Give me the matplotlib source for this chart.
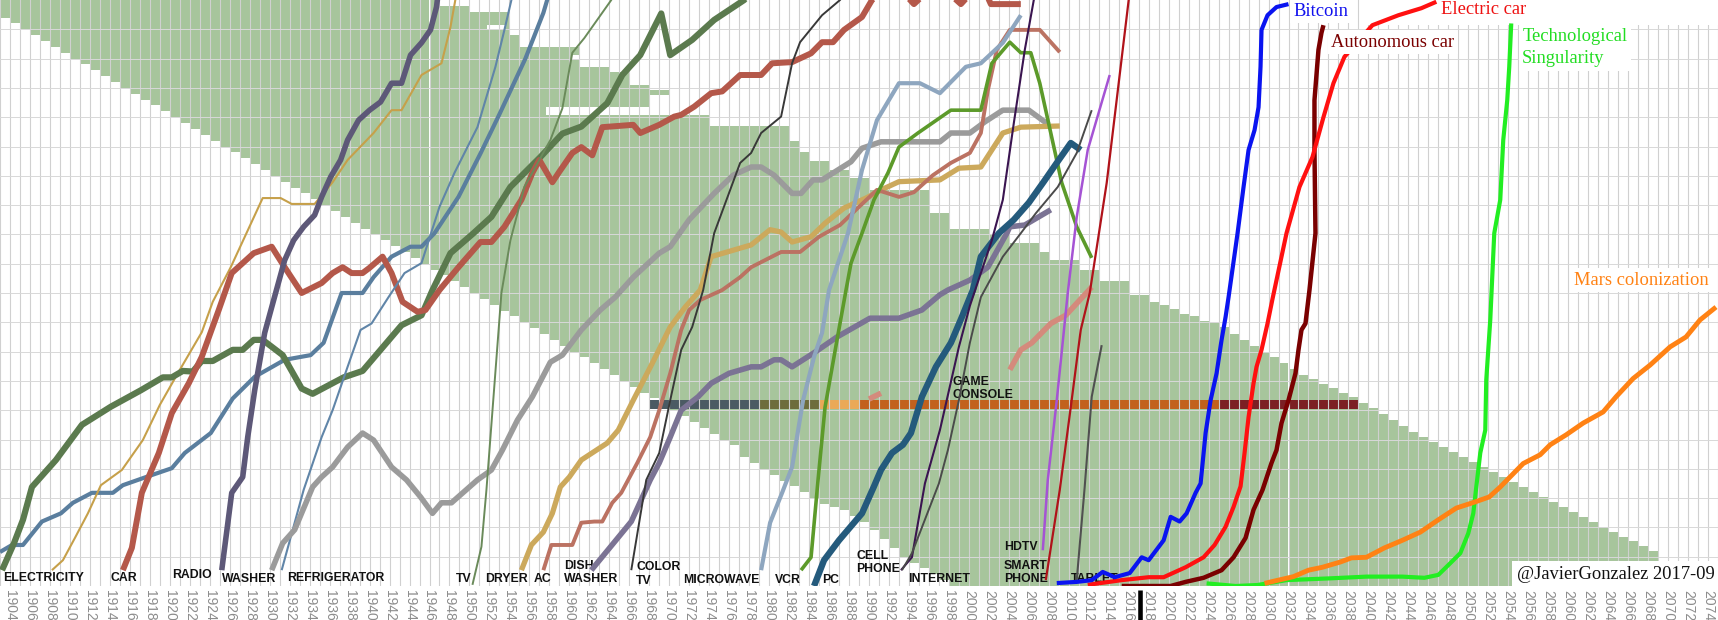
import matplotlib
matplotlib.use("Agg")
import matplotlib.pyplot as plt

plt.rcParams['font.family'] = ['Liberation Sans', 'DejaVu Sans']

# ---------------- axis ----------------
TICK_YEARS = list(range(1904, 2075, 2))
GRID_YEARS = list(range(1903, 2076))
HGRID_VALUES = [5, 10, 15, 20, 25, 30, 35, 40, 45, 50, 55, 60, 65, 70, 75, 80, 85, 90, 95]

# ---------------- green band (one column per year) ----------------
BAND_YEARS = list(range(1903, 2069))
BAND_LOW = ([97, 96, 95, 94, 93, 92, 91, 90, 89, 88,
             87, 86, 85, 84, 83, 82, 81, 80, 79, 78,
             77, 76, 75, 74, 73, 72, 71, 70, 69, 68,
             67, 66, 65, 64, 63, 62, 61, 60, 59, 58,
             57, 56, 55, 54, 53, 52, 51, 50, 49, 48,
             47, 46, 45, 44, 43, 42, 41, 40, 39, 38,
             37, 36, 35, 34, 33, 32, 31, 30, 29, 28,
             27, 26, 25, 24, 22, 21, 20, 19, 18, 17,
             16, 15, 14, 13.5, 13, 12, 11, 9.5, 8, 6.5,
             5, 4, 3, 2, 1, 0, 0, 0, 0, 0] + [0] * 66)
BAND_HIGH = ([100] * 44 +
             [99, 99, 99, 98, 98, 98, 98, 94, 92, 92,
              92, 92, 92, 92, 88.6, 88.6, 88.6, 87.7, 87.7, 85.5,
              85.5, 84.6, 84.6, 80.4, 80.4, 80.4, 80.4, 78.5, 78.5, 78.5,
              78.5, 78.5, 78.5, 78.5, 78.5, 76, 74, 72.5, 72.5, 71,
              71, 69.6, 69.6, 67.5, 67.5, 67.5, 67.5, 67.5, 67.5, 63.6,
              63.6, 61, 61, 61, 61, 60, 60, 58.5, 58.5, 58.5,
              57, 55.6, 55.6, 55.6, 54, 54, 52, 52, 52, 49.7,
              49.7, 48.5, 48, 47.3, 46.5, 46, 45.3, 44.8, 44.2, 43,
              42, 41, 40, 39, 38, 37, 36, 35.3, 34.5, 33.8,
              33, 32.3, 31.3, 30.3, 29.3, 28.3, 27.3, 26.3, 25.4, 24.6,
              23.7, 22.9, 22, 21.2, 20.3, 19.5, 18.6, 17.8, 16.9, 16.1,
              15.2, 14.4, 13.5, 12.7, 11.8, 11, 10.1, 9.3, 8.4, 7.6,
              6.8, 6.0])
GAP_START = [1951.8, 1960.3, 1957.7, 1968.0]
GAP_END = [1953.6, 1961.4, 1968.0, 1970.0]
GAP_LOW = [94.9, 89.8, 80.4, 80.4]
GAP_HIGH = [95.8, 90.6, 81.8, 83.8]

# ---------------- game console bar ----------------
GC_START = [1968, 1979, 1985, 1989, 2025]
GC_END = [1979, 1985, 1989, 2025, 2039]
GC_COLORS = ['#4b5a63', '#6d6c3c', '#eaa957', '#c2611d', '#7c1f24']
GC_LOW, GC_HIGH = 30.2, 31.7

# ---------------- series ----------------
ELEC_YR = [1903.2, 1904.4, 1905.3, 1906.2, 1908.6, 1911.2, 1914.1, 1917.1, 1919.3, 1920.2, 1921.3, 1922.3,
           1923.2, 1924.3, 1926.3, 1927.3, 1928.4, 1929.3, 1931.3, 1933.2, 1934.3, 1937.4, 1939.3, 1941.1,
           1943.2, 1945.2, 1946.3, 1948.1, 1950.4, 1952.2, 1954.1, 1957.1, 1959.3, 1961.2, 1963.8, 1965.3,
           1967.1, 1969.2, 1970.1, 1972.3, 1974.5, 1977.5, 1979]
ELEC_VAL = [2.7, 7.3, 11.3, 16.9, 21.5, 27.5, 30.6, 33.4, 35.6, 35.6, 36.7, 36.6,
            38.4, 38.4, 40.3, 40.3, 42, 42, 39.4, 33.7, 32.8, 35.6, 36.7, 40.3,
            44.5, 46.2, 50.5, 56.8, 60.2, 63, 68.1, 73.2, 77.2, 78.4, 82.4, 87.2,
            90.6, 97.7, 90.6, 93.2, 96.6, 100, 103]

TEL_YR = [1903, 1904.2, 1905.3, 1907.2, 1909.1, 1910.3, 1912.2, 1914.3, 1915.3, 1917.8, 1920.2, 1921.5,
          1924.1, 1926.3, 1928.5, 1931.5, 1934.1, 1935.4, 1937.2, 1939.3, 1940.4, 1942.2, 1944.1, 1945.2,
          1946.5, 1948.9, 1951.1, 1953, 1955.6, 1957.4, 1958.3]
TEL_VAL = [5.8, 7, 7, 11, 12.4, 14.2, 15.9, 15.9, 17.2, 18.7, 20.1, 22.7,
           26.1, 32, 35.7, 38.6, 39.4, 41.5, 50, 50, 52.7, 56.2, 57.9, 57.9,
           60.2, 66.4, 73.8, 80.5, 90, 97.8, 103]

GOLD_YR = [1908.2, 1909.3, 1910.5, 1911.8, 1913.1, 1915.2, 1917.3, 1919, 1920.8, 1923.2, 1924.3, 1926.1,
           1929.3, 1931.1, 1932.2, 1934.5, 1936.3, 1937.8, 1940.4, 1942.2, 1943.2, 1945.2, 1947.2, 1948.1,
           1948.9]
GOLD_VAL = [2.7, 4.4, 8.2, 12.4, 17.2, 19.8, 24.9, 30.9, 36.3, 43.3, 48.5, 54.4,
            66.2, 66.2, 65.2, 65.2, 68.9, 72.7, 77.3, 81.2, 81.2, 87.2, 89.2, 95.4,
            103]

CAR_YR = [1915.3, 1916.2, 1917.2, 1918.9, 1920.2, 1921.9, 1923.2, 1924.9, 1926.2, 1928.4, 1930.2, 1931.5,
          1933.2, 1935.2, 1936.3, 1937.3, 1938.2, 1939.3, 1940, 1941.3, 1942.2, 1943.3, 1944.8, 1945.6,
          1947, 1948.9, 1951.1, 1952.2, 1953.5, 1955.2, 1956.3, 1957, 1958.3, 1959, 1960.3, 1961.2,
          1962.3, 1963.3, 1966.4, 1967.1, 1969, 1970.5, 1971.2, 1972.5, 1974.2, 1975.3, 1977.1, 1979.2,
          1980.3, 1982.3, 1984.2, 1985.3, 1986.4, 1987.5, 1989.3, 1990.3, 1992.5, 1994.5, 1996.8, 1999.2,
          2001.2, 2002.2, 2005.2]
CAR_VAL = [2.7, 6.5, 15.9, 22.7, 29.5, 34.6, 39.1, 47.1, 53.4, 56.8, 57.9, 54.4,
           50, 51.7, 53.4, 54.4, 53.4, 53.4, 54.3, 56.2, 53.4, 48.5, 46.8, 47.1,
           50.5, 54.4, 58.7, 58.7, 61.3, 65.9, 70.5, 72.7, 68.9, 70.7, 73.9, 74.9,
           73.5, 78.3, 78.7, 77.3, 78.7, 80.1, 80.4, 81.8, 84.1, 84.4, 87.2, 87.2,
           89.2, 89.4, 90.9, 92.8, 92.8, 94.9, 97.1, 100, 103, 99.3, 103, 99.3,
           103, 99.3, 99.3]

RADIO_YR = [1925.2, 1926.2, 1927.3, 1927.8, 1928.5, 1929.5, 1930.4, 1931.5, 1932.4, 1933.4, 1934.5, 1935.2,
            1936.1, 1937.1, 1937.8, 1938.9, 1940, 1941.1, 1942.2, 1943.2, 1944.1, 1945.2, 1946.1, 1946.7,
            1947]
RADIO_VAL = [2.7, 15.9, 18.6, 25.4, 33.4, 43.2, 48.8, 55.6, 59, 61.3, 63.3, 66.4,
             69.8, 72.7, 76.1, 79.5, 81.2, 82.6, 85.8, 85.8, 90.6, 92.7, 94.9, 98.8,
             103]

FRIDGE_YR = [1930.2, 1931.3, 1932.5, 1934.3, 1935.2, 1936.3, 1937.8, 1939.3, 1940.4, 1942.2, 1943.7, 1945.1,
             1946.3, 1947.2, 1948.2, 1950.8, 1952.2, 1953.3, 1954.8, 1956.3, 1958.1, 1959.3, 1961.2, 1963.1,
             1964.6, 1966.4, 1969, 1970.1, 1972, 1974.5, 1976.4, 1978.2, 1979.2, 1980.5, 1982.3, 1983.2,
             1984.4, 1985.3, 1988.2, 1989.3, 1991.2, 1997.1, 1998.2, 2000.1, 2001.6, 2003.4, 2006, 2008]
FRIDGE_VAL = [2.7, 7.3, 9.6, 16.9, 18.6, 20.3, 23.7, 26.1, 24.9, 20.3, 18.1, 15.2,
              12.4, 14.2, 14.2, 18.1, 19.8, 23.2, 28.3, 32.3, 38.2, 39.4, 43.7, 47.1,
              49.3, 52.7, 56.8, 57.9, 62.5, 67, 70.1, 71.5, 71.5, 70.1, 67, 67,
              69.3, 69.3, 72.4, 74.7, 75.8, 75.8, 77.3, 77.3, 79.2, 81.2, 81.2, 78.7]

BLUE_YR = [1931.2, 1933.4, 1935.2, 1936.3, 1937.8, 1939.1, 1940.2, 1941.9, 1943.5, 1945.2, 1947, 1948.5,
           1950.8, 1952.6, 1953.5, 1954.2, 1954.5]
BLUE_VAL = [2.7, 16.4, 25.4, 30, 37.4, 43.7, 44.8, 49.3, 53.4, 55.1, 64.7, 70.5,
            78.3, 88.6, 94.9, 100, 103]

TV_YR = [1950.3, 1951.2, 1951.7, 1953.2, 1954.1, 1955.5, 1958.1, 1959.3, 1960.3, 1961.5, 1964.2, 1964.5]
TV_VAL = [0.2, 6.7, 16.4, 50, 59, 68.1, 76.1, 81.5, 91, 93.5, 100, 102]

DRYER_YR = [1955.2, 1956.2, 1957.4, 1958.3, 1959.1, 1960, 1961.2, 1963.8, 1964.9, 1966.4, 1968.3, 1970.1,
            1971.6, 1973.1, 1974.2, 1976.4, 1978.2, 1980.1, 1981.2, 1982.3, 1984.2, 1985.6, 1987.5, 1989.7,
            1991.6, 1993, 1997.1, 1999, 2001.2, 2003.4, 2005.2, 2009.1]
DRYER_VAL = [2.7, 7, 9.2, 12.4, 16.9, 18.6, 21.5, 24.4, 26.6, 31.7, 38, 44.2,
             47.6, 50.5, 56.2, 57.3, 58.2, 60.8, 60.4, 58.7, 59.6, 61.9, 64.5, 66.2,
             67.9, 69, 69.3, 71.3, 71.5, 77.3, 78.3, 78.5]

AC_YR = [1957.4, 1958.2, 1960.3, 1961.2, 1962.5, 1963.3, 1964.3, 1965.2, 1966.8, 1968.1, 1969, 1970.1,
         1971.2, 1972, 1973.1, 1975.3, 1977.1, 1978.2, 1981.2, 1983.1, 1985, 1987.1, 1989, 1990.8,
         1993, 1994.5, 1996.4, 1998.2, 2000.1, 2001.2, 2001.9, 2002.8, 2004.1, 2007.1, 2009.1]
AC_VAL = [2.7, 7, 7, 10.8, 11, 11, 14.2, 15.9, 21, 25.4, 30, 36.3,
          43.7, 47.1, 48.8, 50.5, 52.7, 54.4, 57, 57, 59.6, 61.6, 64.7, 67.6,
          66.4, 67.2, 70.1, 72.2, 73.9, 77.3, 84.6, 91.5, 94.9, 94.9, 91.1]

DISH_YR = [1962.2, 1966.2, 1968.1, 1969, 1970.1, 1971.2, 1972.9, 1974.2, 1976, 1978.2, 1979.2, 1980.5,
           1981.2, 1982.3, 1984.5, 1986.8, 1990.1, 1993, 1995.3, 1997.1, 1997.9, 2000.1, 2001.9, 2003.8,
           2004.1, 2005.6, 2008.2]
DISH_VAL = [2.7, 11, 18.1, 21, 25.4, 30, 32.3, 34.6, 36.3, 37.4, 37.4, 38.6,
            38.6, 37.4, 39.8, 42.5, 45.7, 45.7, 47.1, 49.7, 50.5, 52.2, 54.4, 60.2,
            61.3, 61.6, 64.2]

CTV_YR = [1966.2, 1967.7, 1969, 1970.1, 1971.2, 1972.3, 1973.4, 1974.5, 1977.1, 1978.2, 1979.2, 1981.2,
          1982.3, 1983.1, 1985.3, 1987.1, 1988]
CTV_VAL = [2.7, 18.1, 22.7, 31.7, 40.3, 44.2, 50.5, 60.2, 72.2, 73.9, 77.3, 80.1,
           89.2, 92.8, 97.4, 100, 102]

MICRO_YR = [1979.2, 1980.1, 1981.3, 1982.3, 1983.4, 1984.5, 1985.3, 1986, 1987.9, 1989.3, 1990.8, 1993,
            1995.1, 1997.1, 1999.7, 2001.2, 2003.4, 2005.2]
MICRO_VAL = [2.7, 10.8, 15.9, 20.3, 31.7, 39.1, 43.2, 50.5, 60.2, 71, 79.5, 85.8,
             85.8, 84.1, 88.6, 89.2, 92.7, 97.4]

VCR_YR = [1983.2, 1984.2, 1984.9, 1985.6, 1986.8, 1987.7, 1988.2, 1989.3, 1990.5, 1991.9, 1993, 1994.9,
          1998.2, 2001.2, 2002.3, 2004.1, 2005.2, 2006.2, 2007.1, 2008.2, 2009.3, 2010.8, 2012.3]
VCR_VAL = [2.7, 4.9, 18.1, 30.5, 42, 50.5, 55.1, 60.2, 65.9, 70.5, 74.9, 77.3,
           81.2, 81.2, 89.2, 92.8, 91, 91, 85.8, 77.3, 68.8, 61.3, 56]

PC_YR = [1984.5, 1985.5, 1987, 1989.3, 1990.5, 1991.2, 1992.3, 1993.4, 1994.2, 1995.3, 1996.7, 1998.2,
         1999.3, 2000.4, 2001.2, 2003, 2004.5, 2006, 2007.5, 2009, 2010.2, 2011.2]
PC_VAL = [0, 4.4, 7.8, 12.4, 17, 19.8, 22.7, 24.1, 26.1, 32.3, 37.4, 41.5,
          45.9, 50.5, 56.2, 60.2, 62.5, 65.4, 69, 72.7, 75.6, 74.4]

CELL_YR = [1993.2, 1994.3, 1995.6, 1997.1, 1999, 2000.1, 2002.3, 2003.4, 2004.5, 2005.6, 2006.5, 2006.7]
CELL_VAL = [2.7, 4.9, 17.5, 26.6, 40.8, 47.8, 59, 65.9, 79, 91.5, 100, 102]

NET_YR = [1993.3, 1994.3, 1997, 1997.9, 1999, 2000.1, 2001.2, 2003.4, 2005.2, 2006.7, 2008.9, 2010.8, 2012.3]
NET_VAL = [2.7, 5.6, 17.5, 23.2, 31.7, 41.5, 49.3, 56.2, 60.2, 63.6, 68.1, 73.9, 81.2]

HDTV_YR = [2007.4, 2007.9, 2008.8, 2009.9, 2010.8, 2011.9, 2014.1]
HDTV_VAL = [6.1, 18.1, 31.7, 50, 63, 74.4, 87.2]

SMART_YR = [2007.7, 2009.1, 2010.2, 2011.2, 2012.1, 2013.8, 2016, 2016.2]
SMART_VAL = [1, 16.4, 30.5, 43.7, 50, 68.8, 100, 102]

TABLET_YR = [2010.8, 2011.6, 2012.3, 2013.3]
TABLET_VAL = [1, 17, 32.3, 41.1]

SALMON_YR = [2004.1, 2005.2, 2006.3, 2008.2, 2009.7, 2012.3]
SALMON_VAL = [36.9, 40.3, 41.5, 44.8, 46.2, 51]
SALMON2_YR = [1990, 1991.2]
SALMON2_VAL = [31.9, 32.9]

BTC_YR = [2008.8, 2010.8, 2012.3, 2013.4, 2014.6, 2016.1, 2017.3, 2018, 2019.5, 2020.2, 2021.1, 2021.8,
          2022.7, 2023.2, 2023.7, 2024.2, 2024.8, 2025.3, 2025.7, 2026, 2026.9, 2027.5, 2028, 2028.6,
          2029.0, 2029.2, 2029.3, 2029.9, 2030.8, 2032]
BTC_VAL = [0.5, 0.7, 1, 2.4, 1.5, 2.2, 4.9, 4.4, 7.8, 11.8, 11, 12.4,
           15.9, 17.5, 26.1, 31.7, 36.3, 42, 45.9, 49.3, 60.2, 68.1, 74.4, 77.8,
           81.7, 88.6, 94.9, 97.4, 98.8, 99.3]

ECAR_YR = [2011.9, 2015.3, 2018, 2019.5, 2021.7, 2023.5, 2024.6, 2025.7, 2026.5, 2027.2, 2027.6, 2028,
           2028.5, 2028.8, 2029.3, 2029.9, 2030.4, 2031.8, 2033.1, 2034.4, 2035.5, 2036.5, 2037.6, 2040.4,
           2043, 2045.3, 2046.8]
ECAR_VAL = [0.2, 1, 1.5, 1.5, 3.2, 4.9, 7, 10.1, 13.5, 17, 22.7, 28.8,
            34.6, 37.4, 40.3, 44.8, 49, 60.2, 68.1, 73.2, 80, 85.8, 90.3, 95.7,
            97.4, 98.6, 99.7]

AUTO_YR = [2015.3, 2020.2, 2021.7, 2023.5, 2025.3, 2026.5, 2027.7, 2028.5, 2029.4, 2030.3, 2030.8, 2031.3,
           2032, 2032.7, 2033, 2033.3, 2033.7, 2034.1, 2034.7, 2034.6, 2034.6, 2035, 2035.3, 2035.5]
AUTO_VAL = [0, 0, 0.7, 1.4, 2.7, 4.9, 8.2, 13, 16.4, 21, 23.2, 27.8,
            31.7, 36.3, 40.3, 43.7, 44.8, 50.5, 60.2, 74.4, 82.9, 91.5, 94.4, 95.7]

SING_YR = [2023.8, 2026.7, 2028.9, 2031.8, 2036.1, 2039.8, 2043.4, 2045.6, 2047.0, 2048.2, 2049.2, 2050.0,
           2050.5, 2050.8, 2051.2, 2051.7, 2051.8, 2052.2, 2052.6, 2053.2, 2053.5, 2053.9, 2054.1, 2054.3]
SING_VAL = [0.45, 0, 0.17, 1.0, 1.3, 1.6, 1.6, 1.4, 1.9, 3.9, 5.6, 9,
            12.4, 16.9, 22.7, 26.6, 35.2, 45.4, 60.2, 65.9, 76.1, 82.9, 88.6, 96]

MARS_YR = [2029.6, 2032.5, 2034.0, 2035.4, 2037.2, 2038.3, 2039.8, 2041.6, 2043.4, 2045.2, 2047.0, 2048.8,
           2050.6, 2052.1, 2053.2, 2055.5, 2057.2, 2058.2, 2059.8, 2061.5, 2063.5, 2064.8, 2066.5, 2068.2,
           2070.2, 2071.8, 2073.2, 2074.8]
MARS_VAL = [0.45, 1.6, 2.7, 3.2, 4.1, 4.8, 4.9, 6.5, 7.8, 9.2, 11.3, 13.3,
            14.3, 15.2, 16.9, 20.9, 22.4, 24.1, 25.8, 27.8, 29.7, 32.3, 35.4, 37.7,
            40.8, 42.5, 45.4, 47.6]

SERIES = [
    (TEL_YR, TEL_VAL, '#5a7e9e', 3.0),
    (GOLD_YR, GOLD_VAL, '#c6a04a', 1.5),
    (ELEC_YR, ELEC_VAL, '#5b7a4e', 4.5),
    (CAR_YR, CAR_VAL, '#b4584a', 4.3),
    (BLUE_YR, BLUE_VAL, '#6085a8', 1.5),
    (RADIO_YR, RADIO_VAL, '#5d5878', 4.0),
    (FRIDGE_YR, FRIDGE_VAL, '#9b9b9b', 4.0),
    (TV_YR, TV_VAL, '#6a8a5a', 1.4),
    (DRYER_YR, DRYER_VAL, '#cca95c', 3.8),
    (AC_YR, AC_VAL, '#bb7262', 2.8),
    (DISH_YR, DISH_VAL, '#7b7394', 4.0),
    (CTV_YR, CTV_VAL, '#383838', 1.4),
    (MICRO_YR, MICRO_VAL, '#8ea6bf', 3.0),
    (VCR_YR, VCR_VAL, '#5c9a2a', 2.6),
    (PC_YR, PC_VAL, '#245a7c', 4.6),
    (CELL_YR, CELL_VAL, '#3a1450', 1.5),
    (NET_YR, NET_VAL, '#4a4a4a', 1.4),
    (SALMON_YR, SALMON_VAL, '#d48a7c', 4.0),
    (SALMON2_YR, SALMON2_VAL, '#d48a7c', 4.0),
    (HDTV_YR, HDTV_VAL, '#a553d4', 1.8),
    (SMART_YR, SMART_VAL, '#b0121a', 1.6),
    (TABLET_YR, TABLET_VAL, '#505050', 1.5),
    (AUTO_YR, AUTO_VAL, '#7a0000', 3.2),
    (ECAR_YR, ECAR_VAL, '#ff1010', 3.0),
    (BTC_YR, BTC_VAL, '#0a14f0', 3.0),
    (SING_YR, SING_VAL, '#22ee22', 3.0),
    (MARS_YR, MARS_VAL, '#ff8214', 3.5),
]

# ---------------- labels ----------------
BOTTOM_LABELS = ["ELECTRICITY", "CAR", "RADIO", "WASHER", "REFRIGERATOR", "TV", "DRYER", "AC",
                 "DISH\nWASHER", "COLOR\nTV", "MICROWAVE", "VCR", "PC", "CELL\nPHONE", "INTERNET",
                 "SMART\nPHONE", "TABLET", "HDTV", "GAME\nCONSOLE"]
BOTTOM_X = [1903.3, 1914.1, 1920.2, 1925.2, 1931.7, 1948.6, 1951.6, 1956.4,
            1959.5, 1966.7, 1971.4, 1980.6, 1985.3, 1988.7, 1993.9,
            2003.5, 2010.2, 2003.5, 1998.4]
BOTTOM_Y = [0.8, 0.8, 1.3, 0.6, 0.8, 0.6, 0.6, 0.6,
            0.6, 0.4, 0.5, 0.5, 0.5, 2.4, 0.7,
            0.7, 0.7, 6.1, 32.1]

FUTURE_LABELS = ["Bitcoin", "Electric car", "Autonomous car", "Technological\nSingularity", "Mars colonization"]
FUTURE_X = [2032.5, 2047.3, 2036.3, 2055.4, 2060.6]
FUTURE_Y = [98.1, 98.3, 92.8, 91.9, 52.2]
FUTURE_COLORS = ['#1010ee', '#ee1111', '#7a0000', '#22dd22', '#ff8214']

CREDIT = "@JavierGonzalez 2017-09"
NOW_YEAR = 2017.1

# ---------------- figure ----------------
fig = plt.figure(figsize=(17.18, 6.2), dpi=100)
ax = fig.add_axes([0, 34 / 620, 1, 586 / 620])
ax.set_xlim(1903.04, 2074.84)
ax.set_ylim(0, 100)

GREEN = '#a7c59c'
heights = [h - l for h, l in zip(BAND_HIGH, BAND_LOW)]
ax.bar(BAND_YEARS, heights, bottom=BAND_LOW, width=1.0, align='edge', color=GREEN,
       linewidth=0, zorder=1)
ax.bar(GAP_START, [h - l for h, l in zip(GAP_HIGH, GAP_LOW)], bottom=GAP_LOW,
       width=[e - s for s, e in zip(GAP_START, GAP_END)], align='edge', color='white',
       linewidth=0, zorder=1.05)

for s, e, c in zip(GC_START, GC_END, GC_COLORS):
    yrs = list(range(s, e))
    ax.bar(yrs, [GC_HIGH - GC_LOW] * len(yrs), bottom=GC_LOW, width=1.0, align='edge',
           color=c, linewidth=0, zorder=1.2)

# white strip at top right (behind labels)
ax.bar([2039.2], [100 - 95.7], bottom=[95.7], width=2075 - 2039.2, align='edge',
       color='white', linewidth=0, zorder=1.6)

# grid
ax.set_axisbelow('line')
ax.set_xticks(TICK_YEARS)
ax.set_xticklabels([str(y) for y in TICK_YEARS], rotation=270)
ax.set_xticks(GRID_YEARS, minor=True)
ax.set_yticks(HGRID_VALUES)
ax.grid(True, which='both', axis='x', color='#d0d0d0', linewidth=0.8)
ax.grid(True, which='major', axis='y', color='#d8d8d8', linewidth=0.7)
ax.tick_params(axis='both', which='both', length=0)
ax.tick_params(axis='x', labelsize=10, labelcolor='#8c8c8c', pad=3)
ax.tick_params(axis='y', labelleft=False)
for sp in ax.spines.values():
    sp.set_visible(False)

for i, (xs, ys, c, lw) in enumerate(SERIES):
    ax.plot(xs, ys, color=c, linewidth=lw, zorder=3 + i * 0.01,
            solid_joinstyle='round', solid_capstyle='butt')

for txt, x, y in zip(BOTTOM_LABELS, BOTTOM_X, BOTTOM_Y):
    ax.text(x, y, txt, ha='left', va='baseline', fontsize=8.8, fontweight='bold',
            color='#111111', linespacing=1.15, zorder=2)

for txt, x, y, c in zip(FUTURE_LABELS, FUTURE_X, FUTURE_Y, FUTURE_COLORS):
    ax.text(x, y, txt, ha='left', va='center', fontsize=13.3, color=c,
            family=['Liberation Serif', 'DejaVu Serif'], linespacing=1.45,
            bbox=dict(facecolor='white', edgecolor='none', pad=2.5), zorder=5)

ax.text(2054.9, 1.2, CREDIT, ha='left', va='baseline', fontsize=13.3, color='#111111',
        family=['Liberation Serif', 'DejaVu Serif'],
        bbox=dict(facecolor='white', edgecolor='none', pad=3.5), zorder=6)

ax.plot([NOW_YEAR, NOW_YEAR], [-0.6, -6.5], color='black', linewidth=3.3,
        solid_capstyle='butt', clip_on=False, zorder=7)

fig.savefig('out.png', dpi=100)
